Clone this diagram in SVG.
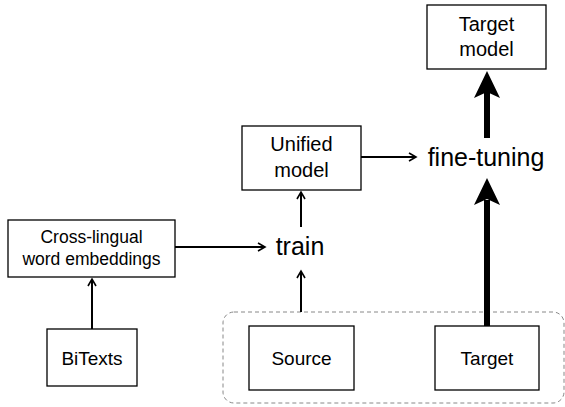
<svg xmlns="http://www.w3.org/2000/svg" width="565" height="407" viewBox="0 0 565 407">
<defs>
<style>
.box{fill:#fff;stroke:#000;stroke-width:1.3}
.lbl{font-family:"Liberation Sans",Arial,sans-serif;font-size:17.5px;text-anchor:middle;fill:#000}
.mid{font-size:20px}
.big{font-family:"Liberation Sans",Arial,sans-serif;font-size:25px;text-anchor:middle;fill:#000}
.thin{stroke:#000;stroke-width:2;fill:none;marker-end:url(#ah)}
.thick{stroke:#000;stroke-width:6;fill:none}
</style>
<marker id="ah" markerWidth="10" markerHeight="10" refX="8" refY="5" orient="auto" markerUnits="userSpaceOnUse">
<path d="M1,1 L8,5 L1,9" fill="none" stroke="#000" stroke-width="1.6"/>
</marker>
</defs>
<rect x="223" y="312" width="341" height="91" rx="11" fill="none" stroke="#888" stroke-width="1" stroke-dasharray="4,3"/>
<g id="connectors">
<line class="thin" x1="92" y1="329" x2="92" y2="279"/>
<line class="thin" x1="175" y1="247" x2="265" y2="247"/>
<line class="thin" x1="301" y1="312" x2="301" y2="271"/>
<line class="thin" x1="301" y1="227" x2="301" y2="192"/>
<line class="thin" x1="361" y1="157" x2="416" y2="157"/>
<line class="thick" x1="487" y1="326" x2="487" y2="200"/>
<polygon points="487,178 500,205 487,199 474,205" fill="#000"/>
<line class="thick" x1="487" y1="138" x2="487" y2="92"/>
<polygon points="487,71 500,98 487,92 474,98" fill="#000"/>
</g>
<g id="cross-lingual">
<rect class="box" x="8" y="220" width="167" height="57"/>
<text class="lbl" x="91.5" y="243">Cross-lingual</text>
<text class="lbl" x="91.5" y="265">word embeddings</text>
</g>
<g id="bitexts">
<rect class="box" x="47" y="329" width="90" height="57"/>
<text class="lbl" x="92" y="365" style="font-size:19px">BiTexts</text>
</g>
<g id="unified">
<rect class="box" x="242" y="126" width="119" height="64"/>
<text class="lbl mid" x="301.5" y="151">Unified</text>
<text class="lbl mid" x="301.5" y="177">model</text>
</g>
<g id="target-model">
<rect class="box" x="427" y="5" width="119" height="64"/>
<text class="lbl mid" x="486.5" y="31">Target</text>
<text class="lbl mid" x="486.5" y="56">model</text>
</g>
<g id="source">
<rect class="box" x="249" y="326" width="105" height="64"/>
<text class="lbl" x="301.5" y="365" style="font-size:19px">Source</text>
</g>
<g id="target">
<rect class="box" x="435" y="326" width="104" height="64"/>
<text class="lbl" x="487" y="365" style="font-size:19px">Target</text>
</g>
<g id="train">
<text class="big" x="300" y="255">train</text>
</g>
<g id="fine-tuning">
<text class="big" x="486" y="166">fine-tuning</text>
</g>
</svg>
